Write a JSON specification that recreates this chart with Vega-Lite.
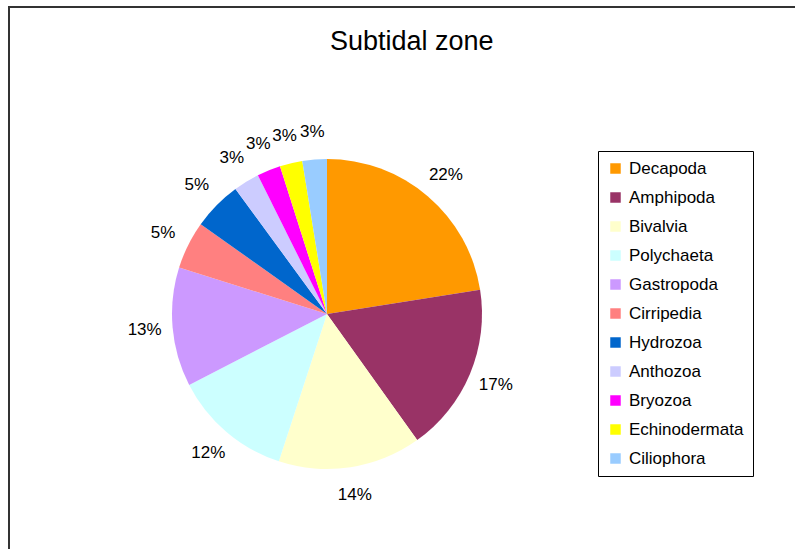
{
  "$schema": "https://vega.github.io/schema/vega-lite/v6.json",
  "width": 800,
  "height": 560,
  "autosize": {"type": "none"},
  "padding": {"left": 9, "top": 7, "right": 0, "bottom": 0},
  "background": "white",
  "title": {
    "text": "Subtidal zone",
    "font": "Liberation Sans",
    "fontSize": 27,
    "fontWeight": "normal",
    "color": "black",
    "anchor": "start",
    "orient": "top",
    "baseline": "alphabetic",
    "offset": -70,
    "dx": 321
  },
  "data": {
    "values": [
      {"taxon": "Decapoda", "share": 22.5, "label": "22%", "i": 1},
      {"taxon": "Amphipoda", "share": 17.6, "label": "17%", "i": 2},
      {"taxon": "Bivalvia", "share": 14.9, "label": "14%", "i": 3},
      {"taxon": "Polychaeta", "share": 12.4, "label": "12%", "i": 4},
      {"taxon": "Gastropoda", "share": 12.4, "label": "13%", "i": 5},
      {"taxon": "Cirripedia", "share": 5.0, "label": "5%", "i": 6},
      {"taxon": "Hydrozoa", "share": 5.1, "label": "5%", "i": 7},
      {"taxon": "Anthozoa", "share": 2.7, "label": "3%", "i": 8},
      {"taxon": "Bryozoa", "share": 2.45, "label": "3%", "i": 9},
      {"taxon": "Echinodermata", "share": 2.35, "label": "3%", "i": 10},
      {"taxon": "Ciliophora", "share": 2.55, "label": "3%", "i": 11}
    ]
  },
  "encoding": {
    "theta": {"field": "share", "type": "quantitative", "stack": true},
    "order": {"field": "i", "type": "quantitative"},
    "x": {"value": 318},
    "y": {"value": 307}
  },
  "layer": [
    {
      "mark": {"type": "arc", "radius": 155, "stroke": null},
      "encoding": {
        "color": {
          "field": "taxon",
          "type": "nominal",
          "sort": null,
          "scale": {
            "domain": ["Decapoda", "Amphipoda", "Bivalvia", "Polychaeta", "Gastropoda", "Cirripedia", "Hydrozoa", "Anthozoa", "Bryozoa", "Echinodermata", "Ciliophora"],
            "range": ["#FF9900", "#993366", "#FFFFCC", "#CCFFFF", "#CC99FF", "#FF8080", "#0066CC", "#CCCCFF", "#FF00FF", "#FFFF00", "#99CCFF"]
          },
          "legend": {
            "title": null,
            "orient": "none",
            "legendX": 589,
            "legendY": 144,
            "symbolType": "square",
            "symbolSize": 110,
            "symbolStrokeWidth": 0,
            "labelFont": "Liberation Sans",
            "labelFontSize": 17,
            "labelColor": "black",
            "labelOffset": 5,
            "rowPadding": 11,
            "padding": 9,
            "strokeColor": "black",
            "fillColor": "white",
            "labelLimit": 300
          }
        }
      }
    },
    {
      "mark": {"type": "text", "radius": 183, "font": "Liberation Sans", "fontSize": 17, "color": "black", "align": "center", "baseline": "middle"},
      "encoding": {
        "text": {"field": "label", "type": "nominal"},
        "detail": {"field": "taxon", "type": "nominal"}
      }
    }
  ],
  "config": {
    "view": {"stroke": "#333333", "strokeWidth": 2}
  }
}
